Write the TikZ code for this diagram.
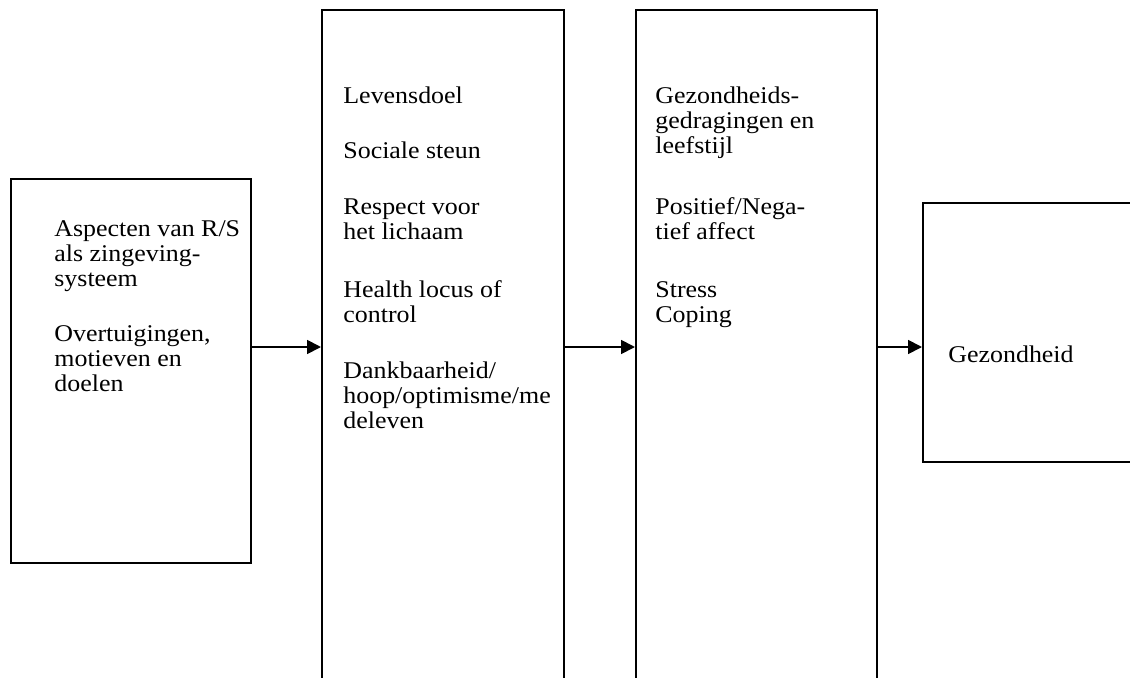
\documentclass[tikz,border=0pt]{standalone}
\usepackage{fontspec}
\setmainfont{Liberation Serif}[FakeStretch=1.08]
\usetikzlibrary{arrows.meta}
\begin{document}
\begin{tikzpicture}[x=1pt,y=1pt,
	box/.style={draw, line width=1pt, inner sep=0pt},
	txt/.style={align=left, inner sep=0pt, anchor=north west, font=\fontsize{12}{12.5}\selectfont},
	arr/.style={-{Triangle[length=7pt,width=7pt]}, line width=0.9pt}]
	\useasboundingbox (0,0) rectangle (565,338.5);
	\clip (0,0) rectangle (565,338.5);
	
	% boxes
	\node[box, minimum width=120pt, minimum height=192pt] at (65.5,153) (bron) {};
	\node[box, minimum width=121pt, minimum height=338.5pt] at (221.5,164.25) (medi) {};
	\node[box, minimum width=120.5pt, minimum height=338.5pt] at (378.25,164.25) (gedr) {};
	\node[box, minimum width=118.5pt, minimum height=129.5pt] at (520.75,172.25) (gez) {};
	\coordinate (mid) at (0,165);
	
	% texts
	\node[txt] at (27,228.2) (tbron) {Aspecten van R/S\\ als zingeving-\\ systeem\\[15pt] Overtuigingen,\\ motieven en\\ doelen};
	\node[txt] at (171.5,295.2) (tmedi) {Levensdoel\\[15pt] Sociale steun\\[15.5pt] Respect voor\\ het lichaam\\[16.5pt] Health locus of\\ control\\[15.5pt] Dankbaarheid/\\ hoop/optimisme/me\\ deleven};
	\node[txt] at (327.5,295.2) (tgedr) {Gezondheids-\\ gedragingen en\\ leefstijl\\[18pt] Positief/Nega-\\ tief affect\\[16.5pt] Stress\\ Coping};
	\node[txt, anchor=base west] at (474,157.5) (tgez) {Gezondheid};
	
	\draw[arr] (bron.east |- mid) -- (medi.west |- mid);
	\draw[arr] (medi.east |- mid) -- (gedr.west |- mid);
	\draw[arr] (gedr.east |- mid) -- (gez.west |- mid);
\end{tikzpicture}
\end{document}
